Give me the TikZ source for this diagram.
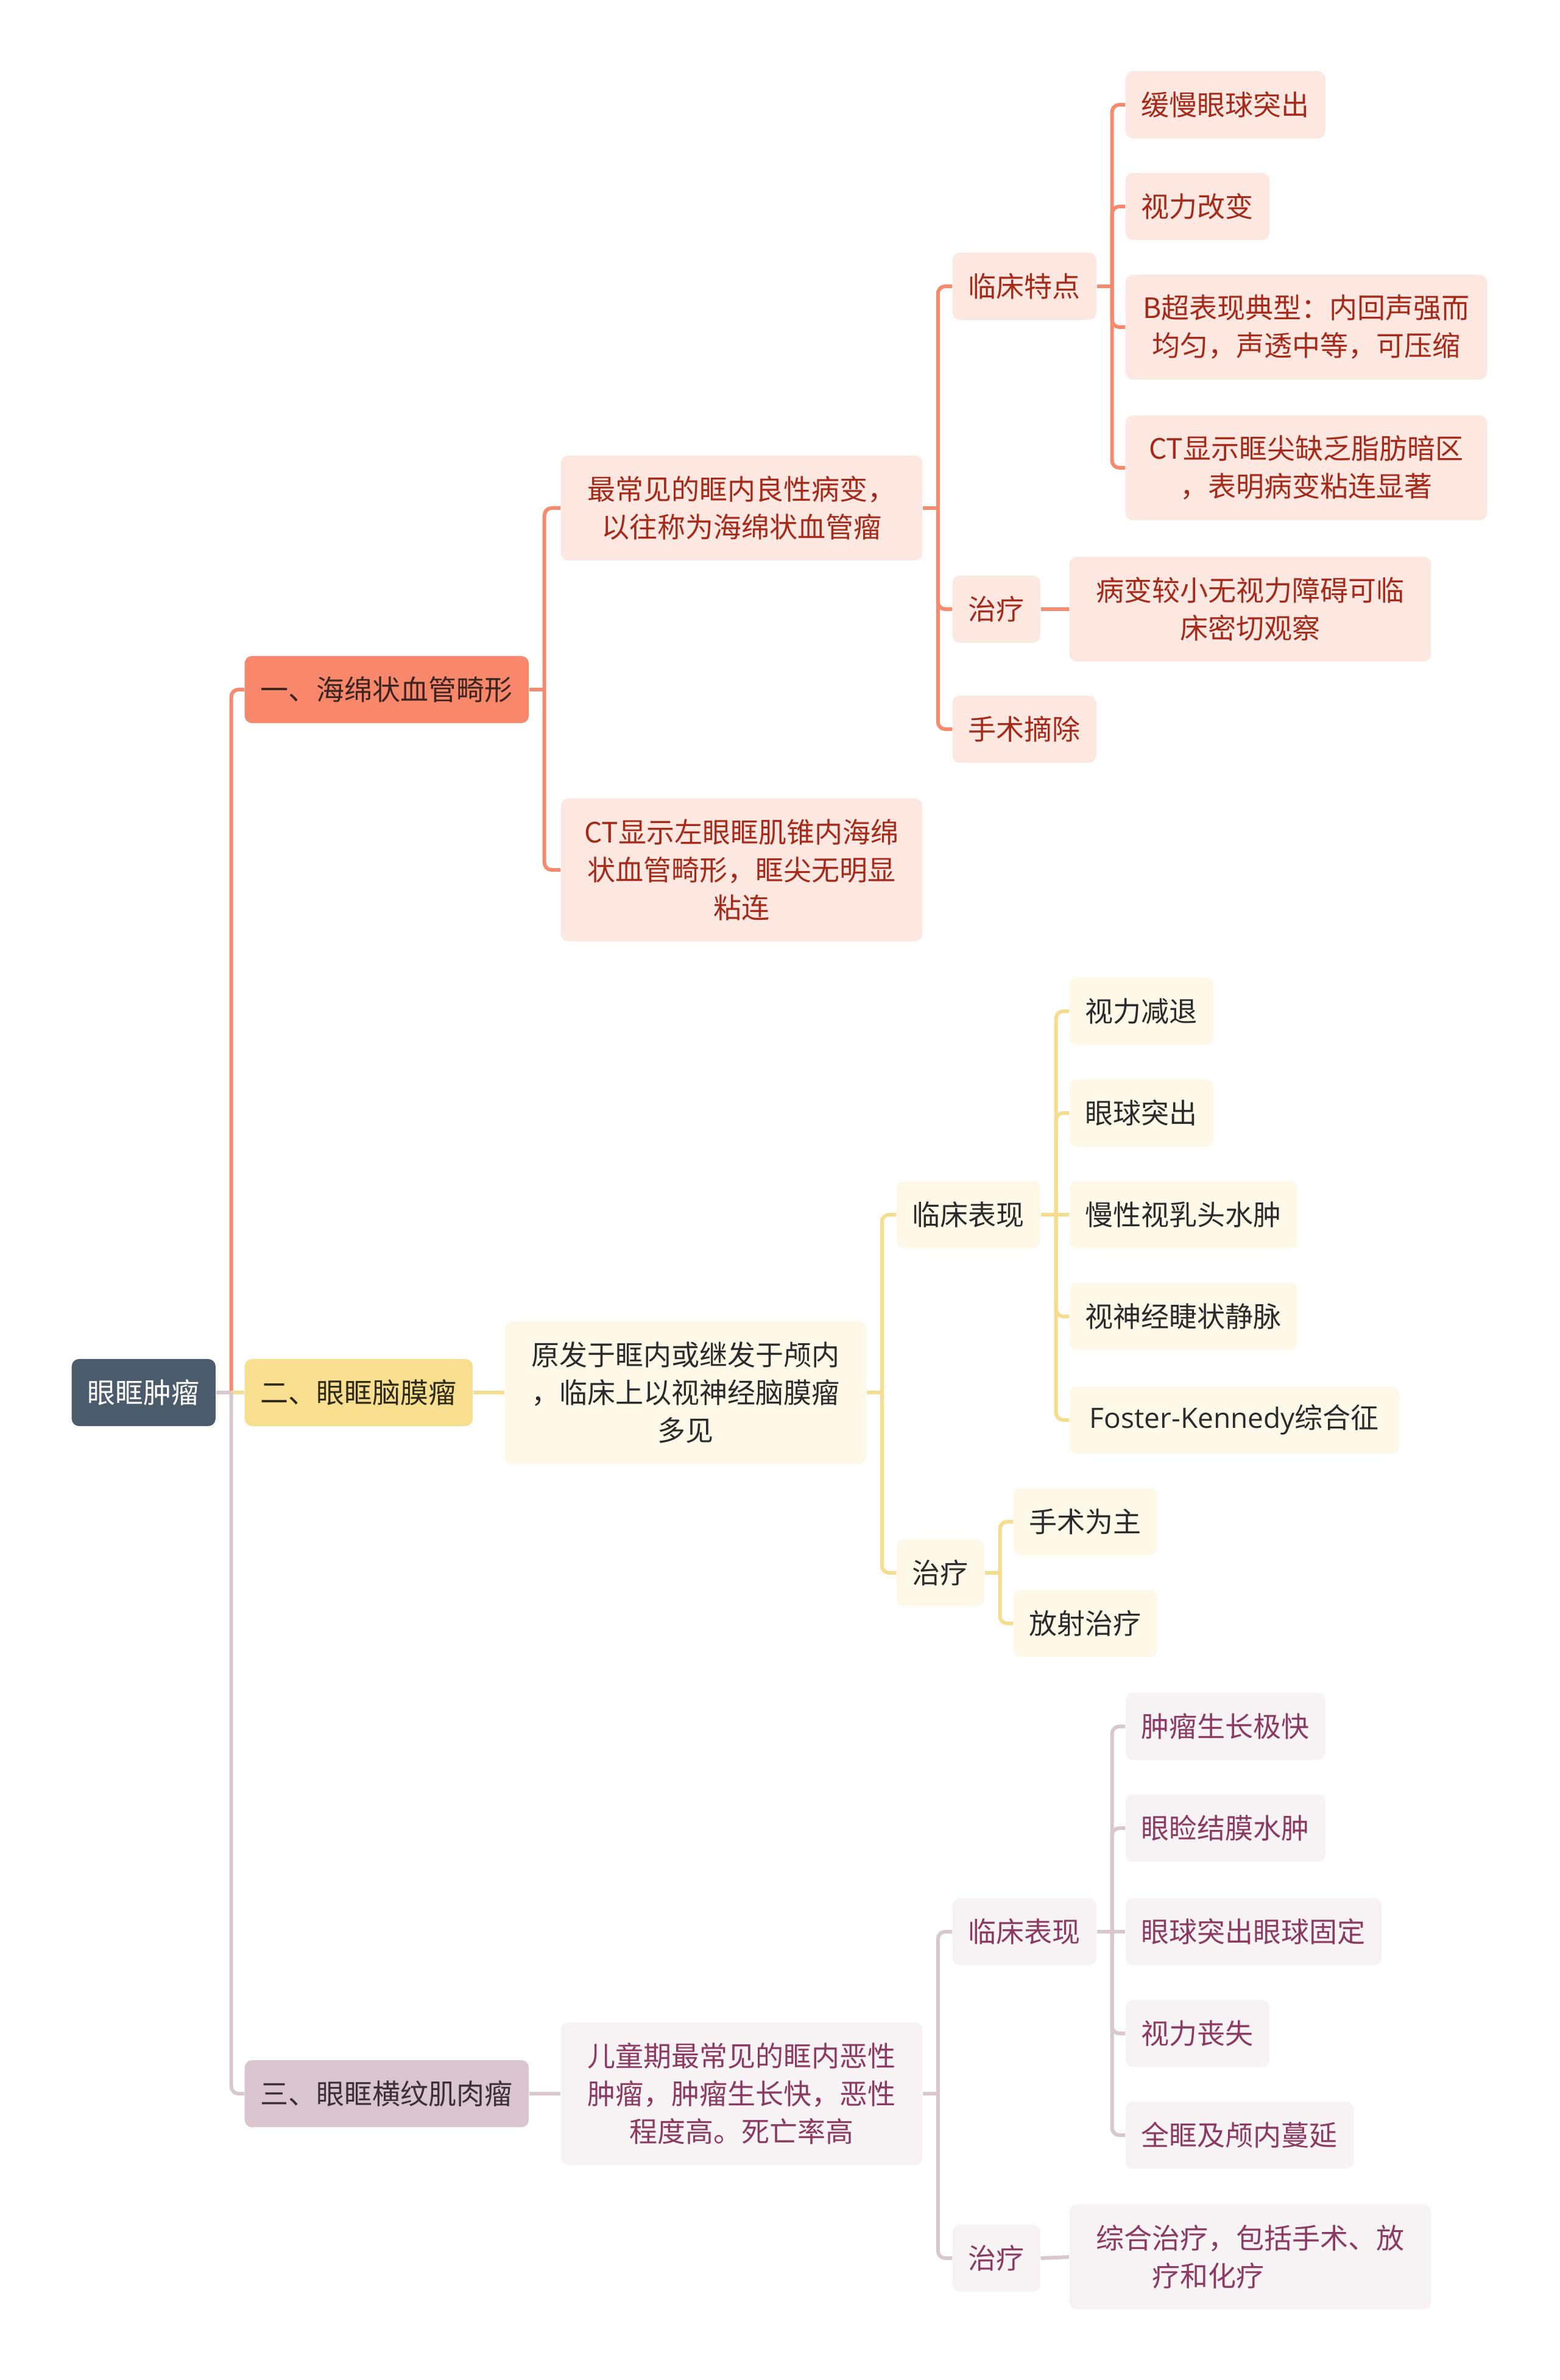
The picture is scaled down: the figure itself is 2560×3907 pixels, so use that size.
\documentclass[tikz,border=0pt]{standalone}
\usepackage{fontspec}
\setmainfont{Noto Sans CJK SC}
\newfontfamily\latinfont{Open Sans}

\definecolor{rootfill}{HTML}{4A5B6B}
\definecolor{redmain}{HTML}{F9876B}
\definecolor{redmaintext}{HTML}{3A2520}
\definecolor{redlight}{HTML}{FDE7E1}
\definecolor{redtext}{HTML}{A52A1A}
\definecolor{redline}{HTML}{F8896C}
\definecolor{yellowmain}{HTML}{F8DE8F}
\definecolor{yellowmaintext}{HTML}{2E2A18}
\definecolor{yellowlight}{HTML}{FDF8E8}
\definecolor{yellowtext}{HTML}{2B2B2B}
\definecolor{yellowline}{HTML}{F6DC8D}
\definecolor{plummain}{HTML}{D9C5CE}
\definecolor{plummaintext}{HTML}{3A3035}
\definecolor{plumlight}{HTML}{F7F2F4}
\definecolor{plumtext}{HTML}{8B3A62}
\definecolor{plumline}{HTML}{D9C7CF}

\begin{document}
\begin{tikzpicture}[x=0.01cm, y=-0.01cm,
  mapbox/.style={anchor=west, rounded corners=0.12cm, inner xsep=0.26cm, inner ysep=0pt,
    minimum height=1.1cm, align=center, font=\fontsize{13.09}{17.64}\selectfont},
  twoline/.style={minimum height=1.72cm, minimum width=5.93cm},
  threeline/.style={minimum height=2.34cm, minimum width=5.93cm},
  roottopic/.style={mapbox, fill=rootfill, text=white},
  topicA/.style={mapbox, fill=redmain, text=redmaintext},
  itemA/.style={mapbox, fill=redlight, text=redtext},
  topicB/.style={mapbox, fill=yellowmain, text=yellowmaintext},
  itemB/.style={mapbox, fill=yellowlight, text=yellowtext},
  topicC/.style={mapbox, fill=plummain, text=plummaintext},
  itemC/.style={mapbox, fill=plumlight, text=plumtext},
  linkA/.style={draw=redline, line width=0.06cm, rounded corners=0.12cm},
  linkB/.style={draw=yellowline, line width=0.06cm, rounded corners=0.12cm},
  linkC/.style={draw=plumline, line width=0.06cm, rounded corners=0.12cm}]

  \path[use as bounding box, fill=white] (0,0) rectangle (2560,3907);

  % Root
  \node[roottopic] (root) at (117,2286) {眼眶肿瘤};

  % Main branches
  \node[topicA] (hm) at (401,1132) {一、海绵状血管畸形};
  \node[topicB] (nm) at (401,2286) {二、眼眶脑膜瘤};
  \node[topicC] (hw) at (401,3437) {三、眼眶横纹肌肉瘤};

  % Branch one
  \node[itemA, twoline] (hmdef) at (920,834) {最常见的眶内良性病变，\\以往称为海绵状血管瘤};
  \node[itemA, threeline] (hmct) at (920,1428) {CT显示左眼眶肌锥内海绵\\状血管畸形，眶尖无明显\\粘连};
  \node[itemA] (hmclin) at (1563,470) {临床特点};
  \node[itemA] (hmtreat) at (1563,1000) {治疗};
  \node[itemA] (hmsurg) at (1563,1197) {手术摘除};
  \node[itemA] (hmc1) at (1847,172) {缓慢眼球突出};
  \node[itemA] (hmc2) at (1847,339) {视力改变};
  \node[itemA, twoline] (hmc3) at (1847,537) {B超表现典型：内回声强而\\均匀，声透中等，可压缩};
  \node[itemA, twoline] (hmc4) at (1847,768) {CT显示眶尖缺乏脂肪暗区\\，表明病变粘连显著};
  \node[itemA, twoline] (hmobs) at (1755,1000) {病变较小无视力障碍可临\\床密切观察};

  % Branch two
  \node[itemB, threeline] (nmdef) at (828,2286) {原发于眶内或继发于颅内\\，临床上以视神经脑膜瘤\\多见};
  \node[itemB] (nmclin) at (1471,1994) {临床表现};
  \node[itemB] (nmtreat) at (1471,2582) {治疗};
  \node[itemB] (nmc1) at (1755,1660) {视力减退};
  \node[itemB] (nmc2) at (1755,1827) {眼球突出};
  \node[itemB] (nmc3) at (1755,1994) {慢性视乳头水肿};
  \node[itemB] (nmc4) at (1755,2161) {视神经睫状静脉};
  \node[itemB, minimum width=5.41cm] (nmc5) at (1755,2331) {{\latinfont Foster-Kennedy}综合征};
  \node[itemB] (nmt1) at (1663,2498) {手术为主};
  \node[itemB] (nmt2) at (1663,2665) {放射治疗};

  % Branch three
  \node[itemC, threeline] (hwdef) at (920,3437) {儿童期最常见的眶内恶性\\肿瘤，肿瘤生长快，恶性\\程度高。死亡率高};
  \node[itemC] (hwclin) at (1563,3171) {临床表现};
  \node[itemC] (hwtreat) at (1563,3707) {治疗};
  \node[itemC] (hwc1) at (1847,2834) {肿瘤生长极快};
  \node[itemC] (hwc2) at (1847,3001) {眼睑结膜水肿};
  \node[itemC] (hwc3) at (1847,3171) {眼球突出眼球固定};
  \node[itemC] (hwc4) at (1847,3338) {视力丧失};
  \node[itemC] (hwc5) at (1847,3505) {全眶及颅内蔓延};
  \node[itemC, twoline] (hwcomb) at (1755,3705) {综合治疗，包括手术、放\\疗和化疗\hspace*{3em}};

  % Root links
  \draw[linkA] (root.east) -- ++(25,0);
  \draw[linkA] (root.east) ++(25,0) |- (hm.west);
  \draw[linkB] (root.east) -- (nm.west);
  \draw[linkC] (root.east) -- ++(25,0);
  \draw[linkC] (root.east) ++(25,0) |- (hw.west);

  % Branch one links
  \draw[linkA] (hm.east) -- ++(25,0);
  \draw[linkA] (hm.east) ++(25,0) |- (hmdef.west);
  \draw[linkA] (hm.east) ++(25,0) |- (hmct.west);
  \draw[linkA] (hmdef.east) -- ++(25,0);
  \draw[linkA] (hmdef.east) ++(25,0) |- (hmclin.west);
  \draw[linkA] (hmdef.east) ++(25,0) |- (hmtreat.west);
  \draw[linkA] (hmdef.east) ++(25,0) |- (hmsurg.west);
  \draw[linkA] (hmclin.east) -- ++(25,0);
  \draw[linkA] (hmclin.east) ++(25,0) |- (hmc1.west);
  \draw[linkA] (hmclin.east) ++(25,0) |- (hmc2.west);
  \draw[linkA] (hmclin.east) ++(25,0) |- (hmc3.west);
  \draw[linkA] (hmclin.east) ++(25,0) |- (hmc4.west);
  \draw[linkA] (hmtreat.east) -- (hmobs.west);

  % Branch two links
  \draw[linkB] (nm.east) -- (nmdef.west);
  \draw[linkB] (nmdef.east) -- ++(25,0);
  \draw[linkB] (nmdef.east) ++(25,0) |- (nmclin.west);
  \draw[linkB] (nmdef.east) ++(25,0) |- (nmtreat.west);
  \draw[linkB] (nmclin.east) -- ++(25,0);
  \draw[linkB] (nmclin.east) ++(25,0) |- (nmc1.west);
  \draw[linkB] (nmclin.east) ++(25,0) |- (nmc2.west);
  \draw[linkB] (nmclin.east) -- (nmc3.west);
  \draw[linkB] (nmclin.east) ++(25,0) |- (nmc4.west);
  \draw[linkB] (nmclin.east) ++(25,0) |- (nmc5.west);
  \draw[linkB] (nmtreat.east) -- ++(25,0);
  \draw[linkB] (nmtreat.east) ++(25,0) |- (nmt1.west);
  \draw[linkB] (nmtreat.east) ++(25,0) |- (nmt2.west);

  % Branch three links
  \draw[linkC] (hw.east) -- (hwdef.west);
  \draw[linkC] (hwdef.east) -- ++(25,0);
  \draw[linkC] (hwdef.east) ++(25,0) |- (hwclin.west);
  \draw[linkC] (hwdef.east) ++(25,0) |- (hwtreat.west);
  \draw[linkC] (hwclin.east) -- ++(25,0);
  \draw[linkC] (hwclin.east) ++(25,0) |- (hwc1.west);
  \draw[linkC] (hwclin.east) ++(25,0) |- (hwc2.west);
  \draw[linkC] (hwclin.east) -- (hwc3.west);
  \draw[linkC] (hwclin.east) ++(25,0) |- (hwc4.west);
  \draw[linkC] (hwclin.east) ++(25,0) |- (hwc5.west);
  \draw[linkC] (hwtreat.east) -- (hwcomb.west);
\end{tikzpicture}
\end{document}
